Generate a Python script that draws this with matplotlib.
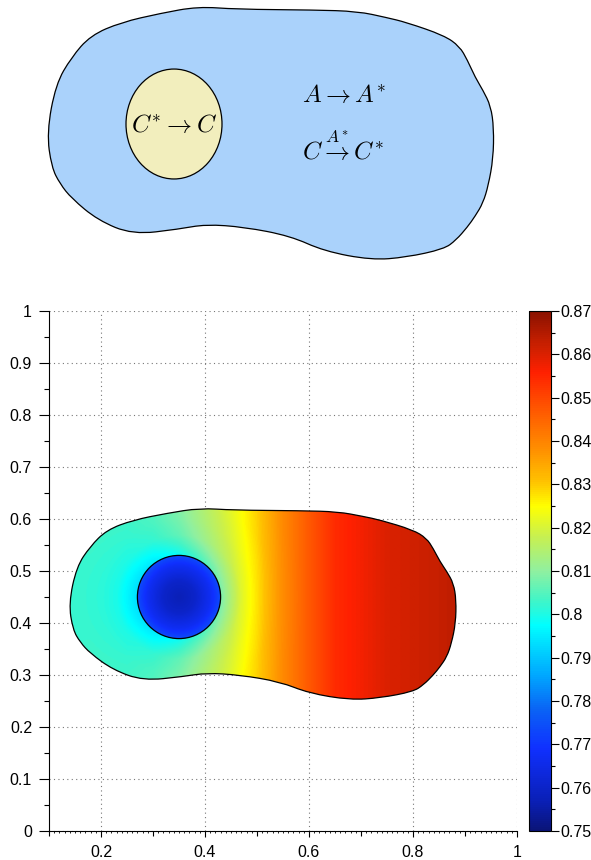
import numpy as np
import matplotlib
matplotlib.use("Agg")
import matplotlib.pyplot as plt
import matplotlib.patches as mpatches
from matplotlib.path import Path
from matplotlib.ticker import MultipleLocator
from matplotlib.colors import LinearSegmentedColormap

plt.rcParams['font.family'] = ['Liberation Sans', 'DejaVu Sans']
plt.rcParams['mathtext.fontset'] = 'cm'

## Domain outline (data coords)
blob_x = [0.138, 0.146, 0.160, 0.179, 0.223, 0.281, 0.358, 0.403, 0.467, 0.544,
          0.600, 0.679, 0.737, 0.800, 0.820, 0.839, 0.852, 0.865, 0.874, 0.882,
          0.883, 0.878, 0.865, 0.852, 0.839, 0.826, 0.800, 0.737, 0.704, 0.656,
          0.583, 0.454, 0.390, 0.327, 0.262, 0.211, 0.179, 0.153]
blob_y = [0.4375, 0.387, 0.363, 0.342, 0.310, 0.289, 0.297, 0.304, 0.300, 0.287,
          0.265, 0.252, 0.256, 0.268, 0.281, 0.300, 0.316, 0.335, 0.361, 0.400,
          0.444, 0.476, 0.499, 0.518, 0.543, 0.563, 0.579, 0.598, 0.605, 0.614,
          0.616, 0.617, 0.621, 0.611, 0.598, 0.579, 0.547, 0.508]

## Inner disc
disc_x = 0.35
disc_y = 0.45
disc_r = 0.08

## Concentration profiles (estimated from the colours)
prof_x = [0.13, 0.25, 0.30, 0.35, 0.40, 0.45, 0.50, 0.55, 0.60, 0.65, 0.75, 0.85, 0.90]
prof_v = [0.8025, 0.804, 0.806, 0.810, 0.816, 0.822, 0.8295, 0.839, 0.847, 0.854, 0.860, 0.8625, 0.864]
dip_r = [0.08, 0.10, 0.12, 0.15, 0.19, 0.24]
dip_v = [0.0115, 0.0075, 0.004, 0.002, 0.0006, 0.0]
in_r = [0.0, 0.03, 0.06, 0.08]
in_v = [0.757, 0.760, 0.767, 0.774]

cbar_ticks = [0.75, 0.76, 0.77, 0.78, 0.79, 0.80, 0.81, 0.82, 0.83, 0.84, 0.85, 0.86, 0.87]
cbar_labels = ['0.75', '0.76', '0.77', '0.78', '0.79', '0.8', '0.81', '0.82', '0.83', '0.84', '0.85', '0.86', '0.87']

## jet-like colour stops as seen on the reference colorbar
cm_vals = [0.750, 0.757, 0.769, 0.778, 0.786, 0.7975, 0.803, 0.810, 0.818, 0.825,
           0.831, 0.838, 0.846, 0.856, 0.862, 0.870]
cm_cols = ['#0a1478', '#0a20b8', '#1030ff', '#0a64f5', '#00a8ff', '#00ffff', '#40f5c8',
           '#90f0a0', '#c8f050', '#ffff00', '#ffc000', '#ff9000', '#ff6000', '#ff2000',
           '#cc2000', '#8b1200']
vmin, vmax = 0.75, 0.87
cmap = LinearSegmentedColormap.from_list(
    'refjet', [((v - vmin) / (vmax - vmin), c) for v, c in zip(cm_vals, cm_cols)], N=256)


def smooth_path(xs, ys):
    pts = np.column_stack([xs, ys])
    n = len(pts)
    mids = (pts + np.roll(pts, -1, axis=0)) / 2
    verts = [mids[-1]]
    codes = [Path.MOVETO]
    for i in range(n):
        verts += [pts[i], mids[i]]
        codes += [Path.CURVE3, Path.CURVE3]
    verts.append(mids[-1])
    codes.append(Path.CLOSEPOLY)
    return Path(verts, codes)


blob = smooth_path(blob_x, blob_y)

fig = plt.figure(figsize=(5.91, 8.6), dpi=100)

## Top sketch
ax_top = fig.add_axes([0, 590 / 860, 1, 270 / 860])
ax_top.set_xlim(0.06, 1.045)
ax_top.set_ylim(0.2375, 0.6305)
ax_top.axis('off')
ax_top.add_patch(mpatches.PathPatch(blob, facecolor='#aad2fb', edgecolor='black', lw=0.9))
ax_top.add_patch(mpatches.Circle((disc_x, disc_y), disc_r, facecolor='#f2eebd', edgecolor='black', lw=0.9))
ax_top.text(disc_x, 0.4384, r'$C^{*}\rightarrow C$', ha='center', va='baseline', fontsize=18)
ax_top.text(0.563, 0.482, r'$A\rightarrow A^{*}$', ha='left', va='baseline', fontsize=18)
ax_top.text(0.563, 0.3976, r'$C\overset{A^{*}}{\rightarrow}C^{*}$', ha='left', va='baseline', fontsize=18)

## Bottom field plot
ax = fig.add_axes([49 / 591, 29 / 860, 468 / 591, 520 / 860])
ext = [0.1, 0.9, 0.2, 0.65]
gx = np.linspace(ext[0], ext[1], 480)
gy = np.linspace(ext[2], ext[3], 270)
X, Y = np.meshgrid(gx, gy)
R = np.hypot(X - disc_x, Y - disc_y)
F_out = np.interp(X, prof_x, prof_v) - np.interp(R, dip_r, dip_v)
F_in = np.interp(R, in_r, in_v)

im = ax.imshow(F_out, extent=ext, origin='lower', cmap=cmap, vmin=vmin, vmax=vmax,
               interpolation='bilinear', aspect='auto', zorder=2)
im.set_clip_path(mpatches.PathPatch(blob, transform=ax.transData))
im2 = ax.imshow(F_in, extent=ext, origin='lower', cmap=cmap, vmin=vmin, vmax=vmax,
                interpolation='bilinear', aspect='auto', zorder=3)
im2.set_clip_path(mpatches.Circle((disc_x, disc_y), disc_r, transform=ax.transData))

ax.add_patch(mpatches.PathPatch(blob, facecolor='none', edgecolor='black', lw=0.9, zorder=4))
ax.add_patch(mpatches.Circle((disc_x, disc_y), disc_r, facecolor='none', edgecolor='black', lw=0.9, zorder=4))

ax.set_xlim(0.1, 1)
ax.set_ylim(0, 1)
ax.set_xticks([0.2, 0.4, 0.6, 0.8, 1.0])
ax.set_xticklabels(['0.2', '0.4', '0.6', '0.8', '1'])
ax.set_yticks(np.arange(0, 11) / 10)
ax.set_yticklabels(['0', '0.1', '0.2', '0.3', '0.4', '0.5', '0.6', '0.7', '0.8', '0.9', '1'])
ax.xaxis.set_minor_locator(MultipleLocator(0.1))
ax.yaxis.set_minor_locator(MultipleLocator(0.05))
ax.tick_params(axis='y', which='major', length=7.2, width=0.8, labelsize=11.5, pad=5)
ax.tick_params(axis='y', which='minor', length=3.6, width=0.8)
ax.tick_params(axis='x', which='major', length=4.3, width=0.8, labelsize=11.5, pad=6)
ax.tick_params(axis='x', which='minor', length=3.4, width=0.8)
for s in ['top', 'right']:
    ax.spines[s].set_visible(False)
for s in ['left', 'bottom']:
    ax.spines[s].set_linewidth(0.8)
ax.grid(True, which='major', color='#777777', linestyle=(0, (1, 3)), lw=0.8)
ax.set_axisbelow(True)

sec = ax.secondary_xaxis('bottom')
sec.set_xticks(np.arange(10, 101) / 100)
sec.tick_params(length=1.3, width=0.6, labelbottom=False)
sec.spines['bottom'].set_visible(False)

## Colorbar
cax = fig.add_axes([529 / 591, 29 / 860, 22 / 591, 520 / 860])
cb = fig.colorbar(im, cax=cax)
cb.set_ticks(cbar_ticks)
cb.set_ticklabels(cbar_labels)
cb.ax.yaxis.set_minor_locator(MultipleLocator(0.005))
cb.ax.tick_params(which='major', length=5.8, width=0.8, labelsize=11.5, pad=1)
cb.ax.tick_params(which='minor', length=2.9, width=0.8)
cb.outline.set_linewidth(0.8)

plt.savefig('out.png', dpi=100)
